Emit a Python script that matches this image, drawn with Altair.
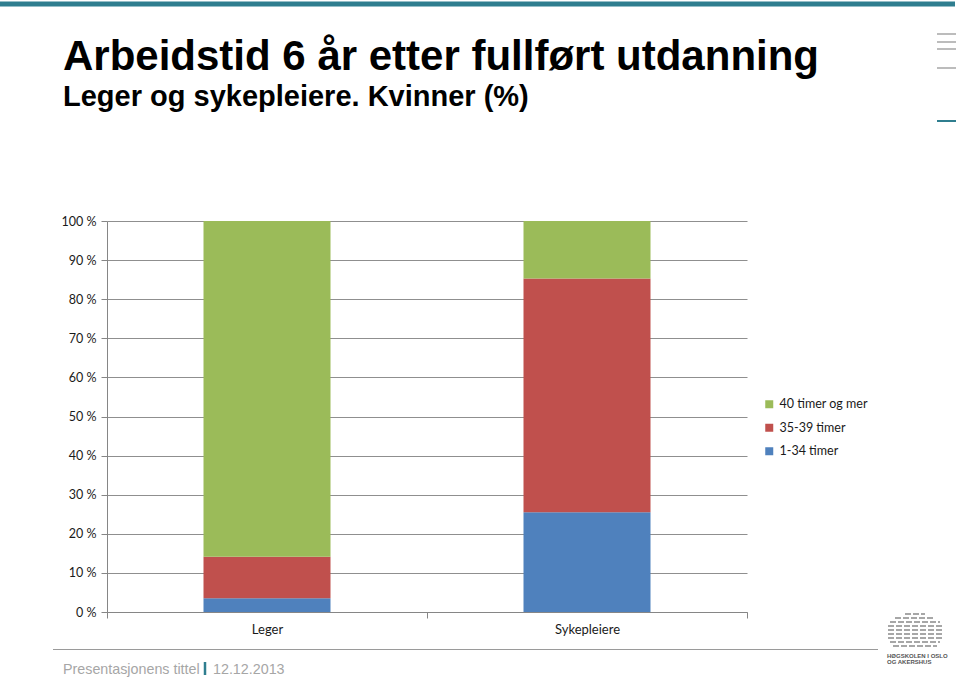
import altair as alt
import pandas as pd

# ---- data ----
categories = ["Leger", "Sykepleiere"]
series = ["1-34 timer", "35-39 timer", "40 timer og mer"]
values_1_34 = [3.5, 25.5]
values_35_39 = [10.6, 59.8]
values_40 = [85.9, 14.7]
legend_order = ["40 timer og mer", "35-39 timer", "1-34 timer"]
colors = ["#9BBB59", "#C0504D", "#4F81BD"]
y_ticks = [0, 10, 20, 30, 40, 50, 60, 70, 80, 90, 100]

title_text = "Arbeidstid 6 år etter fullført utdanning"
subtitle_text = "Leger og sykepleiere. Kvinner (%)"
footer_title = "Presentasjonens tittel"
footer_date = "12.12.2013"
logo_line1 = "HØGSKOLEN I OSLO"
logo_line2 = "OG AKERSHUS"

rows = []
for i, c in enumerate(categories):
    for rank, (s, vals) in enumerate(zip(series, [values_1_34, values_35_39, values_40])):
        rows.append({"kategori": c, "serie": s, "verdi": vals[i], "rank": rank})
df = pd.DataFrame(rows)

# plot area origin in page: (107, 221), size 640 x 391
OX, OY = 107, 221

bars = alt.Chart(df).mark_bar(size=127).encode(
    x=alt.X("kategori:N", sort=categories, title=None,
            scale=alt.Scale(paddingInner=0, paddingOuter=0),
            axis=alt.Axis(labelAngle=0, tickBand="extent", ticks=True, tickSize=6,
                          tickColor="#868686", domainColor="#868686",
                          labelPadding=5, labelFontSize=13, labelFont="Lato",
                          labelColor="#1a1a1a", grid=False)),
    y=alt.Y("verdi:Q", stack="zero", title=None,
            scale=alt.Scale(domain=[0, 100], nice=False),
            axis=alt.Axis(values=y_ticks, labelExpr="datum.value + ' %'",
                          tickSize=6, tickColor="#868686", domainColor="#868686",
                          gridColor="#8f8f8f", grid=True, labelPadding=5,
                          labelFontSize=12.5, labelFont="Lato", labelColor="#1a1a1a")),
    color=alt.Color("serie:N", scale=alt.Scale(domain=legend_order, range=colors),
                    legend=alt.Legend(title=None, orient="none", legendX=656, legendY=177,
                                      symbolType="square", symbolSize=64,
                                      symbolStrokeWidth=0, labelFontSize=12.5,
                                      labelFont="Lato", labelColor="#1a1a1a",
                                      rowPadding=10.5, labelOffset=4)),
    order=alt.Order("rank:Q", sort="ascending"),
)

one = pd.DataFrame({"t": [title_text]})


def text_layer(txt, x, y, size, color="#000000", weight="normal", font="Liberation Sans"):
    return alt.Chart(pd.DataFrame({"t": [txt]})).mark_text(
        align="left", baseline="alphabetic", fontSize=size, font=font,
        fontWeight=weight, color=color
    ).encode(text="t:N", x=alt.value(x - OX), y=alt.value(y - OY))


def hrule(x1, x2, y, color, width=1, dash=None):
    kw = dict(color=color, strokeWidth=width)
    if dash:
        kw["strokeDash"] = dash
    return alt.Chart(one).mark_rule(**kw).encode(
        x=alt.value(x1 - OX), x2=alt.value(x2 - OX), y=alt.value(y - OY))


def vrule(x, y1, y2, color, width=1):
    return alt.Chart(one).mark_rule(color=color, strokeWidth=width).encode(
        x=alt.value(x - OX), y=alt.value(y1 - OY), y2=alt.value(y2 - OY))


teal = "#2F7E8F"
layers = [
    bars,
    hrule(0, 955, 4, teal, 5),
    hrule(937, 956, 34, "#A6A6A6", 1.5),
    hrule(937, 956, 42, "#A6A6A6", 1.5),
    hrule(937, 956, 49, "#A6A6A6", 1.5),
    hrule(937, 956, 68, "#A6A6A6", 1.5),
    hrule(937, 956, 121, teal, 2),
    text_layer(title_text, 63, 70, 42, weight="bold"),
    text_layer(subtitle_text, 63, 106, 29, weight="bold"),
    hrule(53, 878, 649.5, "#9a9a9a", 1),
    text_layer(footer_title, 63, 674, 14.3, color="#A6A6A6"),
    vrule(205, 662, 675, teal, 2.5),
    text_layer(footer_date, 213, 674, 14.3, color="#A6A6A6"),
    text_layer(logo_line1, 887, 658, 6, color="#555555", weight="bold"),
    text_layer(logo_line2, 887, 664, 6, color="#555555", weight="bold"),
]
# logo stripes
for yy, x1, x2 in [(614, 905, 925), (618, 895, 935), (622, 890, 940), (626, 888, 942),
                   (630, 888, 942), (634, 888, 942), (638, 888, 942), (642, 890, 940), (646, 893, 937)]:
    layers.append(hrule(x1, x2, yy, "#8a8a8a", 1.6, [6, 2]))

chart = alt.layer(*layers).properties(
    width=640, height=391,
    background="white",
    padding={"left": OX, "top": OY, "right": 960 - OX - 640, "bottom": 678 - OY - 391},
    autosize=alt.AutoSizeParams(type="none"),
).configure_view(stroke=None)

chart.save("out.html", embed_options={"renderer": "svg", "actions": False})
